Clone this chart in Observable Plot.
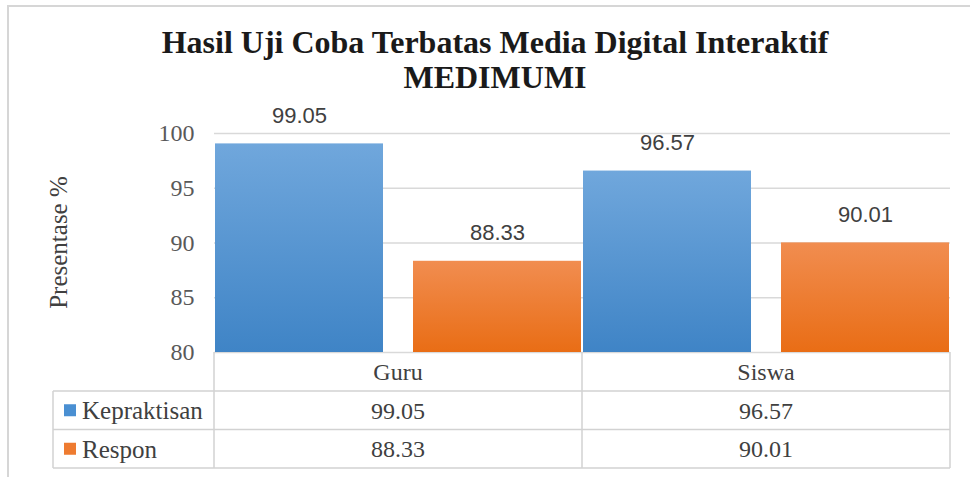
<!DOCTYPE html>
<html><head><meta charset="utf-8">
<script src="https://cdn.jsdelivr.net/npm/d3@7"></script>
<script src="https://cdn.jsdelivr.net/npm/@observablehq/plot@0.6"></script>
<style>
html,body{margin:0;padding:0;background:#fff;}
#wrap{position:relative;width:970px;height:477px;overflow:hidden;}
#frame{position:absolute;left:7px;top:5px;width:990px;height:500px;border-left:2px solid #d6d6d6;border-top:2px solid #d6d6d6;}
#title{position:absolute;left:0;top:25px;width:990px;text-align:center;font-family:"Liberation Serif",serif;font-weight:bold;font-size:32px;line-height:35px;color:#1a1a1a;}
#chart{position:absolute;left:0;top:0;}
#chart svg text{font-family:"Liberation Serif","Times New Roman",serif !important;}
#chart svg text.sans, #chart svg .sans text{font-family:"Liberation Sans",Arial,sans-serif !important;}
</style></head><body>
<div id="wrap"><div id="frame"></div><div id="chart"></div><div id="title">Hasil Uji Coba Terbatas Media Digital Interaktif<br>MEDIMUMI</div></div>
<script>
const groups = ["Guru", "Siswa"];
const seriesNames = ["Kepraktisan", "Respon"];
const kepraktisan = [99.05, 96.57];
const respon = [88.33, 90.01];
const yTicks = [80, 85, 90, 95, 100];
const yLabel = "Presentase %";
const seriesColors = ["#4a8fd2", "#ee7b30"];

const seriesValues = [kepraktisan, respon];
const rows = [];
groups.forEach((g, gi) => seriesNames.forEach((s, si) => rows.push({group: g, series: s, value: seriesValues[si][gi]})));

const serif = '"Liberation Serif", "Times New Roman", serif';

const plot = Plot.plot({
  width: 970, height: 477,
  marginTop: 133, marginBottom: 125, marginLeft: 213, marginRight: 20,
  style: {fontFamily: serif, fontSize: "24px", color: "#595959", background: "transparent", overflow: "visible"},
  fx: {domain: groups, padding: 0, axis: null},
  x: {domain: seriesNames, paddingInner: 0.15, paddingOuter: 0, axis: null},
  y: {domain: [80, 100], ticks: yTicks, tickSize: 0, tickPadding: 20, label: null},
  color: {domain: seriesNames, range: ["url(#gBlue)", "url(#gOrange)"]},
  marks: [
    Plot.ruleY(yTicks, {stroke: "#d9d9d9", strokeWidth: 1.3}),
    Plot.barY(rows, {fx: "group", x: "series", y1: 80, y2: "value", fill: "series"}),
    Plot.text(rows, {fx: "group", x: "series", y: "value", text: d => d.value.toFixed(2), dy: -28,
      fontSize: 22, fill: "#404040", className: "sans"})
  ]
});

const svg = d3.select(plot);
svg.selectAll("g[aria-label='text'] text").classed("sans", true);

const defs = svg.insert("defs", ":first-child");
function grad(id, top, bottom) {
  const g = defs.append("linearGradient").attr("id", id).attr("x1", 0).attr("y1", 0).attr("x2", 0).attr("y2", 1);
  g.append("stop").attr("offset", "0%").attr("stop-color", top);
  g.append("stop").attr("offset", "100%").attr("stop-color", bottom);
}
grad("gBlue", "#70a7dc", "#3f84c6");
grad("gOrange", "#f18d50", "#e96d15");

const fxS = plot.scale("fx");
const yS = plot.scale("y");
const fxApply = v => fxS.apply ? fxS.apply(v) : fxS.range[0] + groups.indexOf(v) * (fxS.range[1] - fxS.range[0]) / groups.length;
const bw = fxS.bandwidth != null ? fxS.bandwidth : (fxS.range[1] - fxS.range[0]) / groups.length;
const yApply = v => yS.apply ? yS.apply(v) : yS.range[0] + (v - yS.domain[0]) / (yS.domain[1] - yS.domain[0]) * (yS.range[1] - yS.range[0]);

const y0 = yApply(80);
const rowH = 38.5;
const headY = y0 + 39;
const rowYs = [headY, headY + rowH, headY + 2 * rowH];
const right = fxApply(groups[groups.length - 1]) + bw;
const tableLeft = 53;
const lineCol = "#d2d2d2";

const tbl = svg.append("g").attr("class", "datatable").attr("text-anchor", "start");
groups.forEach(g => tbl.append("line").attr("x1", fxApply(g)).attr("x2", fxApply(g)).attr("y1", y0).attr("y2", rowYs[2]).attr("stroke", lineCol).attr("stroke-width", 1.5));
tbl.append("line").attr("x1", right).attr("x2", right).attr("y1", y0).attr("y2", rowYs[2]).attr("stroke", lineCol).attr("stroke-width", 1.5);
tbl.append("line").attr("x1", tableLeft).attr("x2", tableLeft).attr("y1", rowYs[0]).attr("y2", rowYs[2]).attr("stroke", lineCol).attr("stroke-width", 1.5);
rowYs.forEach(yy => tbl.append("line").attr("x1", tableLeft).attr("x2", right).attr("y1", yy).attr("y2", yy).attr("stroke", lineCol).attr("stroke-width", 1.5));

groups.forEach(g => tbl.append("text").attr("x", fxApply(g) + bw / 2).attr("y", (y0 + headY) / 2).attr("dy", "0.35em")
  .attr("text-anchor", "middle").attr("font-size", 24).attr("fill", "#404040").text(g));
seriesNames.forEach((s, si) => {
  const cy = (rowYs[si] + rowYs[si + 1]) / 2;
  tbl.append("rect").attr("x", 64).attr("y", cy - 6).attr("width", 12).attr("height", 12).attr("fill", seriesColors[si]);
  tbl.append("text").attr("x", 82).attr("y", cy).attr("dy", "0.35em").attr("text-anchor", "start").attr("font-size", 25).attr("fill", "#404040").text(s);
  groups.forEach((g, gi) => tbl.append("text").attr("x", fxApply(g) + bw / 2).attr("y", cy).attr("dy", "0.35em")
    .attr("text-anchor", "middle").attr("font-size", 24).attr("fill", "#404040").text(seriesValues[si][gi].toFixed(2)));
});

svg.append("text").attr("transform", `translate(58,${(yApply(80) + yApply(100)) / 2}) rotate(-90)`).attr("dy", "0.35em")
  .attr("text-anchor", "middle").attr("font-size", 25).attr("fill", "#404040").text(yLabel);

document.getElementById("chart").appendChild(plot);
</script>
</body></html>
